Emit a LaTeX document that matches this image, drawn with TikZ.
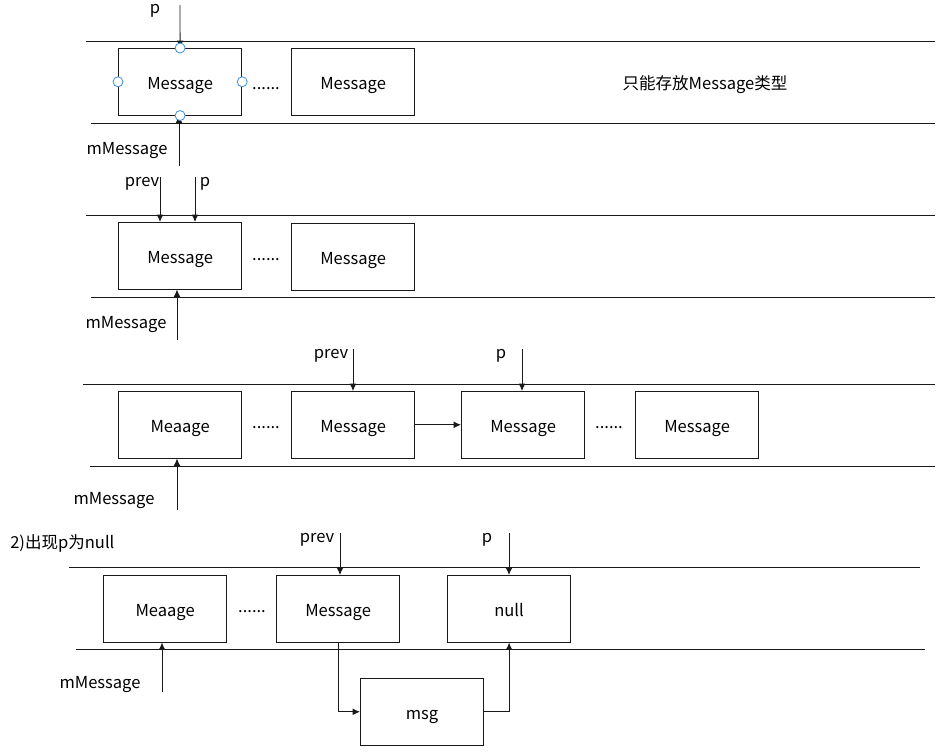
\documentclass[tikz,border=0pt]{standalone}
\usepackage{fontspec}
\setmainfont{Noto Sans CJK SC}
\usetikzlibrary{arrows.meta}
\begin{document}
\begin{tikzpicture}[x=0.75pt,y=-0.75pt,
  box/.style={draw=black!90,line width=0.65pt,minimum width=92.5pt,minimum height=50pt,inner sep=0pt,anchor=north west,text height=11pt,text depth=0pt,font=\fontsize{12.4pt}{14pt}\selectfont},
  lbl/.style={inner sep=0pt,anchor=base,font=\fontsize{12.4pt}{14pt}\selectfont},
  rule/.style={draw=black!90,line width=0.65pt},
  arr/.style={draw=black!90,line width=0.65pt,-{Latex[length=5.5pt,width=5pt]}},
  pin/.style={circle,draw={rgb,255:red,60;green,140;blue,225},fill=white,line width=0.6pt,minimum size=7.5pt,inner sep=0pt}]
\useasboundingbox (0,0) rectangle (946,751);
% ---------- section 1 ----------
\draw[rule] (86,41) -- (935,41);
\draw[rule] (91,123) -- (935,123);
\node[box] (a1) at (118,48) {Message};
\node[box] (a2) at (291,48) {Message};
\node[lbl] (ad) at (266,89) {......};
\node[lbl,text height=6.5pt] (ap) at (155,13.5) {p};
\node[lbl] (am) at (127,154) {mMessage};
\node[lbl] (at) at (705,89) {只能存放Message类型};
\coordinate (ap0) at (180,5);
\coordinate (am0) at (179,166);
\draw[arr] (ap0) -- (a1.north);
\draw[arr] (am0) -- (am0 |- a1.south);
\node[pin] at (a1.north) {};
\node[pin] at (a1.south) {};
\node[pin] at (a1.west) {};
\node[pin] at (a1.east) {};
% ---------- section 2 ----------
\draw[rule] (86,215) -- (935,215);
\draw[rule] (91,297) -- (935,297);
\node[box] (b1) at (118,222) {Message};
\node[box] (b2) at (291,223) {Message};
\node[lbl] (bd) at (266,260) {......};
\node[lbl] (bv) at (142,186) {prev};
\node[lbl] (bp) at (205,186) {p};
\node[lbl] (bm) at (126,328) {mMessage};
\coordinate (bv0) at (160,177);
\coordinate (bp0) at (195,177);
\coordinate (bm0) at (177,340);
\draw[arr] (bv0) -- (bv0 |- b1.north);
\draw[arr] (bp0) -- (bp0 |- b1.north);
\draw[arr] (bm0) -- (bm0 |- b1.south);
% ---------- section 3 ----------
\draw[rule] (83,384) -- (935,384);
\draw[rule] (90,466) -- (935,466);
\node[box] (c1) at (118,391) {Meaage};
\node[box] (c2) at (291,391) {Message};
\node[box] (c3) at (461,391) {Message};
\node[box] (c4) at (635,391) {Message};
\node[lbl] (cd1) at (266,428) {......};
\node[lbl] (cd2) at (609,428) {......};
\node[lbl] (cv) at (331,358) {prev};
\node[lbl] (cp) at (501,358) {p};
\node[lbl] (cm) at (114,504) {mMessage};
\coordinate (cv0) at (353,349);
\coordinate (cp0) at (522,349);
\coordinate (cm0) at (177,510);
\draw[arr] (cv0) -- (cv0 |- c2.north);
\draw[arr] (cp0) -- (cp0 |- c3.north);
\draw[arr] (cm0) -- (cm0 |- c1.south);
\draw[arr] (c2.east) -- (c3.west);
% ---------- section 4 ----------
\node[lbl,anchor=base west] (dt) at (10,548) {2)出现p为null};
\draw[rule] (69,567) -- (920,567);
\draw[rule] (76,649) -- (925,649);
\node[box] (d1) at (103,575) {Meaage};
\node[box] (d2) at (276,575) {Message};
\node[box] (d3) at (447,575) {null};
\node[box] (d4) at (360,678) {msg};
\node[lbl] (dd) at (252,612) {......};
\node[lbl] (dv) at (317,542) {prev};
\node[lbl] (dp) at (487,542) {p};
\node[lbl] (dm) at (100,688) {mMessage};
\coordinate (dv0) at (340,533);
\coordinate (dp0) at (509,533);
\coordinate (dm0) at (162,692);
\draw[arr] (dv0) -- (dv0 |- d2.north);
\draw[arr] (dp0) -- (dp0 |- d3.north);
\draw[arr] (dm0) -- (dm0 |- d1.south);
\draw[arr] (d2.south) |- (d4.west);
\draw[arr] (d4.east) -| (d3.south);
\end{tikzpicture}
\end{document}
